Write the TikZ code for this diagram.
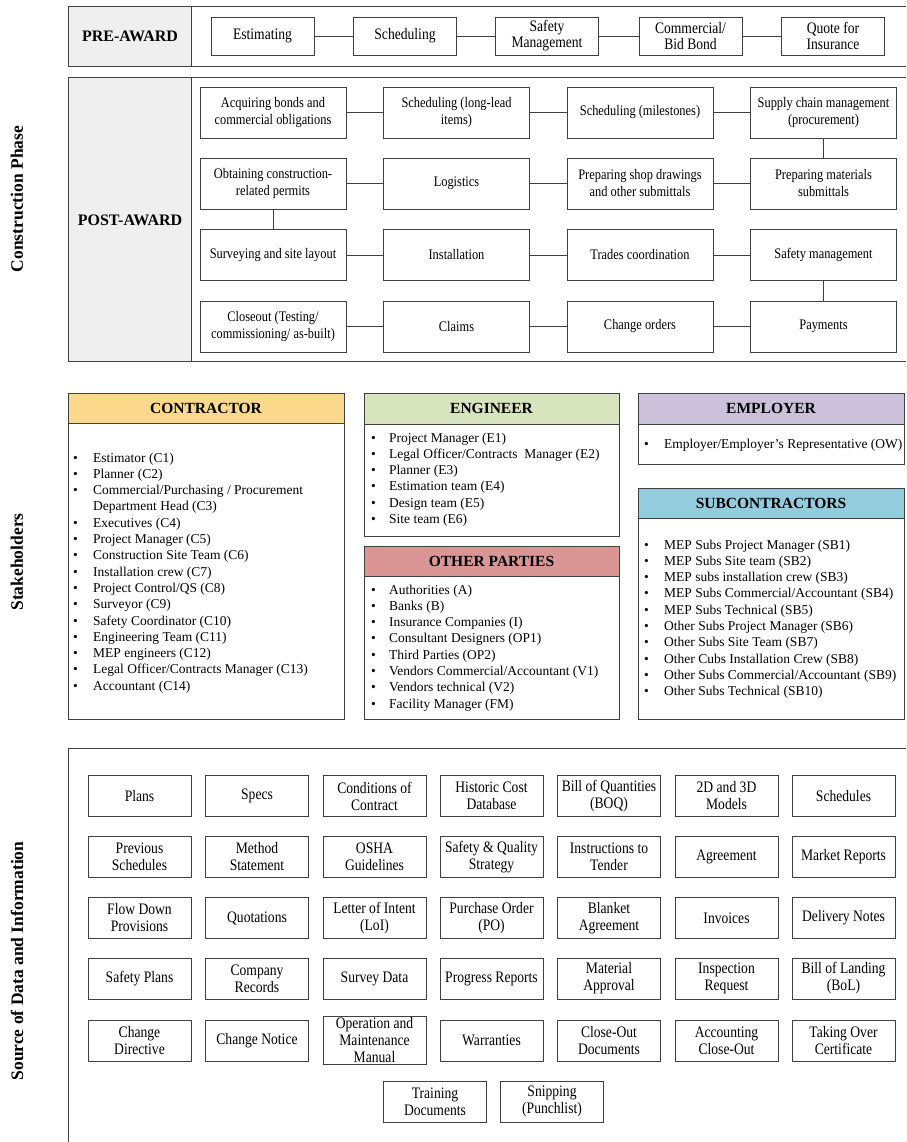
\documentclass[tikz,border=0pt]{standalone}
\usepackage{fontspec}
\setmainfont{Liberation Serif}
\newfontfamily\narrowserif[FakeStretch=0.85]{Liberation Serif}
\usepackage{xcolor}
\usepackage{tikz}
\usetikzlibrary{positioning}

\definecolor{conyellow}{HTML}{FAD98C}
\definecolor{enggreen}{HTML}{D7E4BD}
\definecolor{othred}{HTML}{D99694}
\definecolor{emppurple}{HTML}{CCC1DA}
\definecolor{subblue}{HTML}{93CDDD}
\definecolor{lblgray}{HTML}{EFEFEF}

\begin{document}
\begin{tikzpicture}[x=1pt,y=-1pt]
            \tikzstyle{line}=[draw=black!75,line width=0.9pt];
            \tikzstyle{phase}=[line,minimum width=146pt,minimum height=51pt,align=center,inner sep=1pt,font=\narrowserif\fontsize{14.6}{17}\selectfont];
            \tikzstyle{pre}=[phase,minimum width=103pt,minimum height=38pt,font=\narrowserif\fontsize{16}{16}\selectfont];
            \tikzstyle{src}=[line,minimum width=103pt,minimum height=41pt,align=center,inner sep=1pt,font=\narrowserif\fontsize{16}{17}\selectfont];
            \tikzstyle{side}=[rotate=90,font=\fontsize{17.5}{20}\selectfont\bfseries];
            \tikzstyle{award}=[font=\fontsize{16}{19}\selectfont\bfseries];
            \tikzstyle{hdr}=[font=\fontsize{15.5}{18}\selectfont\bfseries];
            \tikzstyle{roles}=[anchor=base west,inner sep=0pt,font=\fontsize{13.5}{16.3}\selectfont];
            \fill[white] (0,0) rectangle (906,1142);
            \useasboundingbox (0,0) rectangle (906,1142);
            % side labels
            \node[side] (lcp) at (17,199) {Construction Phase};
            \node[side] (lsh) at (17,562) {Stakeholders};
            \node[side] (lsd) at (17,961) {Source of Data and Information};
            % pre-award
            \path[line,fill=lblgray] (68,6) rectangle (191,66);
            \path[line] (906,6) -- (68,6) -- (68,66) -- (906,66);
            \node[award] (lpre) at (130,36) {PRE-AWARD};
            \node[pre] (pre1) at (262.5,36) {Estimating};
            \node[pre] (pre2) at (405,36) {Scheduling};
            \node[pre] (pre3) at (547,36) {Safety\\Management};
            \node[pre] (pre4) at (690.5,36) {Commercial/\\Bid Bond};
            \node[pre] (pre5) at (833,36) {Quote for\\Insurance};
            \path[line] (pre1) -- (pre2);
            \path[line] (pre2) -- (pre3);
            \path[line] (pre3) -- (pre4);
            \path[line] (pre4) -- (pre5);
            % post-award
            \path[line,fill=lblgray] (68,77) rectangle (191,361);
            \path[line] (906,77) -- (68,77) -- (68,361) -- (906,361);
            \node[award] (lpost) at (130,220) {POST-AWARD};
            \node[phase] (a1) at (273,112.5) {Acquiring bonds and\\commercial obligations};
            \node[phase] (a2) at (456.5,112.5) {Scheduling (long-lead\\items)};
            \node[phase] (a3) at (640,112.5) {Scheduling (milestones)};
            \node[phase] (a4) at (823.5,112.5) {Supply chain management\\(procurement)};
            \node[phase] (b1) at (273,183.5) {Obtaining construction-\\related permits};
            \node[phase] (b2) at (456.5,183.5) {Logistics};
            \node[phase] (b3) at (640,183.5) {Preparing shop drawings\\and other submittals};
            \node[phase] (b4) at (823.5,183.5) {Preparing materials\\submittals};
            \node[phase] (c1) at (273,255) {Surveying and site layout};
            \node[phase] (c2) at (456.5,255) {Installation};
            \node[phase] (c3) at (640,255) {Trades coordination};
            \node[phase] (c4) at (823.5,255) {Safety management};
            \node[phase] (d1) at (273,326.5) {Closeout (Testing/\\commissioning/ as-built)};
            \node[phase] (d2) at (456.5,326.5) {Claims};
            \node[phase] (d3) at (640,326.5) {Change orders};
            \node[phase] (d4) at (823.5,326.5) {Payments};
            \path[line] (a1) -- (a2);
            \path[line] (a2) -- (a3);
            \path[line] (a3) -- (a4);
            \path[line] (a4) -- (b4);
            \path[line] (b1) -- (b2);
            \path[line] (b2) -- (b3);
            \path[line] (b3) -- (b4);
            \path[line] (b1) -- (c1);
            \path[line] (c1) -- (c2);
            \path[line] (c2) -- (c3);
            \path[line] (c3) -- (c4);
            \path[line] (c4) -- (d4);
            \path[line] (d1) -- (d2);
            \path[line] (d2) -- (d3);
            \path[line] (d3) -- (d4);
            % stakeholders
            \path[line] (68,393) rectangle (344,719);
            \path[line,fill=conyellow] (68,393) rectangle (344,423);
            \node[hdr] (hcon) at (206,408) {CONTRACTOR};
            \node[roles] (rcon) at (73,462) {\begin{tabular}[t]{@{}p{20pt}@{}l@{}}
                \textbullet & Estimator (C1)\\
                \textbullet & Planner (C2)\\
                \textbullet & Commercial/Purchasing / Procurement\\
                            & Department Head (C3)\\
                \textbullet & Executives (C4)\\
                \textbullet & Project Manager (C5)\\
                \textbullet & Construction Site Team (C6)\\
                \textbullet & Installation crew (C7)\\
                \textbullet & Project Control/QS (C8)\\
                \textbullet & Surveyor (C9)\\
                \textbullet & Safety Coordinator (C10)\\
                \textbullet & Engineering Team (C11)\\
                \textbullet & MEP engineers (C12)\\
                \textbullet & Legal Officer/Contracts Manager (C13)\\
                \textbullet & Accountant (C14)
            \end{tabular}};
            \path[line] (364,393) rectangle (619,536);
            \path[line,fill=enggreen] (364,393) rectangle (619,424);
            \node[hdr] (heng) at (491.5,408.5) {ENGINEER};
            \node[roles] (reng) at (371,442) {\begin{tabular}[t]{@{}p{18pt}@{}l@{}}
                \textbullet & Project Manager (E1)\\
                \textbullet & Legal Officer/Contracts\ \ Manager (E2)\\
                \textbullet & Planner (E3)\\
                \textbullet & Estimation team (E4)\\
                \textbullet & Design team (E5)\\
                \textbullet & Site team (E6)
            \end{tabular}};
            \path[line] (364,546) rectangle (619,719);
            \path[line,fill=othred] (364,546) rectangle (619,576);
            \node[hdr] (hoth) at (491.5,561) {OTHER PARTIES};
            \node[roles] (roth) at (371,594) {\begin{tabular}[t]{@{}p{18pt}@{}l@{}}
                \textbullet & Authorities (A)\\
                \textbullet & Banks (B)\\
                \textbullet & Insurance Companies (I)\\
                \textbullet & Consultant Designers (OP1)\\
                \textbullet & Third Parties (OP2)\\
                \textbullet & Vendors Commercial/Accountant (V1)\\
                \textbullet & Vendors technical (V2)\\
                \textbullet & Facility Manager (FM)
            \end{tabular}};
            \path[line] (638,393) rectangle (904.5,464);
            \path[line,fill=emppurple] (638,393) rectangle (904.5,424);
            \node[hdr] (hemp) at (771,408.5) {EMPLOYER};
            \node[roles] (remp) at (644,448) {\begin{tabular}[t]{@{}p{20pt}@{}l@{}}
                \textbullet & Employer/Employer's Representative (OW)
            \end{tabular}};
            \path[line] (638,488) rectangle (904.5,719);
            \path[line,fill=subblue] (638,488) rectangle (904.5,518);
            \node[hdr] (hsub) at (771,503) {SUBCONTRACTORS};
            \node[roles] (rsub) at (644,549) {\begin{tabular}[t]{@{}p{20pt}@{}l@{}}
                \textbullet & MEP Subs Project Manager (SB1)\\
                \textbullet & MEP Subs Site team (SB2)\\
                \textbullet & MEP subs installation crew (SB3)\\
                \textbullet & MEP Subs Commercial/Accountant (SB4)\\
                \textbullet & MEP Subs Technical (SB5)\\
                \textbullet & Other Subs Project Manager (SB6)\\
                \textbullet & Other Subs Site Team (SB7)\\
                \textbullet & Other Cubs Installation Crew (SB8)\\
                \textbullet & Other Subs Commercial/Accountant (SB9)\\
                \textbullet & Other Subs Technical (SB10)
            \end{tabular}};
            % source of data
            \path[line] (68,1142) -- (68,748) -- (906,748);
            \node[src] (s11) at (139.5,796) {Plans};
            \node[src] (s12) at (257,796) {Specs};
            \node[src] (s13) at (374.5,796) {Conditions of\\Contract};
            \node[src] (s14) at (491.5,796) {Historic Cost\\Database};
            \node[src] (s15) at (609,796) {Bill of Quantities\\(BOQ)};
            \node[src] (s16) at (726.5,796) {2D and 3D\\Models};
            \node[src] (s17) at (843.5,796) {Schedules};
            \node[src] (s21) at (139.5,857) {Previous\\Schedules};
            \node[src] (s22) at (257,857) {Method\\Statement};
            \node[src] (s23) at (374.5,857) {OSHA\\Guidelines};
            \node[src] (s24) at (491.5,857) {Safety \& Quality\\Strategy};
            \node[src] (s25) at (609,857) {Instructions to\\Tender};
            \node[src] (s26) at (726.5,857) {Agreement};
            \node[src] (s27) at (843.5,857) {Market Reports};
            \node[src] (s31) at (139.5,918) {Flow Down\\Provisions};
            \node[src] (s32) at (257,918) {Quotations};
            \node[src] (s33) at (374.5,918) {Letter of Intent\\(LoI)};
            \node[src] (s34) at (491.5,918) {Purchase Order\\(PO)};
            \node[src] (s35) at (609,918) {Blanket\\Agreement};
            \node[src] (s36) at (726.5,918) {Invoices};
            \node[src] (s37) at (843.5,918) {Delivery Notes};
            \node[src] (s41) at (139.5,978.5) {Safety Plans};
            \node[src] (s42) at (257,978.5) {Company\\Records};
            \node[src] (s43) at (374.5,978.5) {Survey Data};
            \node[src] (s44) at (491.5,978.5) {Progress Reports};
            \node[src] (s45) at (609,978.5) {Material\\Approval};
            \node[src] (s46) at (726.5,978.5) {Inspection\\Request};
            \node[src] (s47) at (843.5,978.5) {Bill of Landing\\(BoL)};
            \node[src] (s51) at (139.5,1040.5) {Change\\Directive};
            \node[src] (s52) at (257,1040.5) {Change Notice};
            \node[src] (s53) at (374.5,1040.5) {Operation and\\Maintenance\\Manual};
            \node[src] (s54) at (491.5,1040.5) {Warranties};
            \node[src] (s55) at (609,1040.5) {Close-Out\\Documents};
            \node[src] (s56) at (726.5,1040.5) {Accounting\\Close-Out};
            \node[src] (s57) at (843.5,1040.5) {Taking Over\\Certificate};
            \node[src] (s61) at (435,1101.5) {Training\\Documents};
            \node[src] (s62) at (552,1101.5) {Snipping\\(Punchlist)};
        \end{tikzpicture}
\end{document}
